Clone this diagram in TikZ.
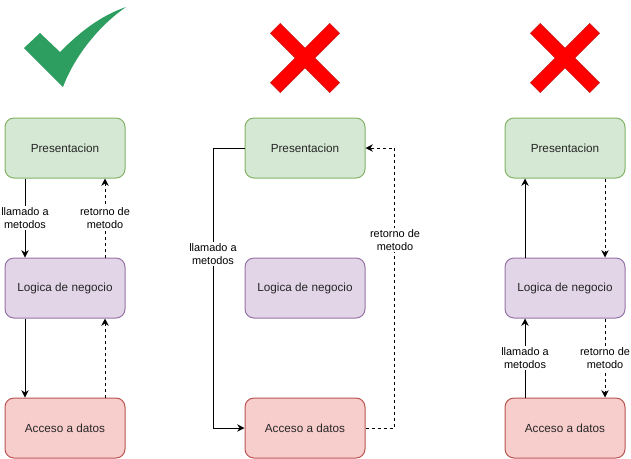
\documentclass[tikz,border=0pt]{standalone}
\usepackage{fontspec}
\setmainfont{Liberation Sans}
\usetikzlibrary{arrows.meta}
\definecolor{presfill}{HTML}{D5E8D4}
\definecolor{presline}{HTML}{82B366}
\definecolor{logfill}{HTML}{E1D5E7}
\definecolor{logline}{HTML}{9673A6}
\definecolor{accfill}{HTML}{F8CECC}
\definecolor{accline}{HTML}{B85450}
\definecolor{okgreen}{RGB}{46,158,96}
\definecolor{xred}{RGB}{255,0,0}
\definecolor{xredline}{RGB}{190,20,20}
\tikzset{
    layer/.style = {draw, line width=0.75pt, rounded corners=6.75pt,
        minimum width=90pt, minimum height=45pt, inner sep=0pt,
        text=black!85, font=\fontsize{8.8}{10}\selectfont},
    pres/.style = {layer, fill=presfill, draw=presline},
    logic/.style = {layer, fill=logfill, draw=logline},
    data/.style = {layer, fill=accfill, draw=accline},
    call/.style = {line width=0.75pt, -{Stealth[length=5.5pt,width=5.5pt]}},
    back/.style = {call, dash pattern=on 2.25pt off 2.25pt},
    lbl/.style = {fill=white, inner sep=1pt, align=center,
        font=\fontsize{8.2}{10}\selectfont}
}
\begin{document}
\begin{tikzpicture}[x=0.75pt, y=-0.75pt]
    \useasboundingbox (0,0) rectangle (631,458);

    % check mark
    \fill[okgreen] (24,48) -- (40,33) -- (60,52)
        .. controls (80,32) and (100,16) .. (126,7)
        .. controls (100,25) and (75,55) .. (63,87) -- cycle;

    % crosses
    \foreach \cx in {305,565} {
        \begin{scope}[shift={(\cx,58)}, rotate=45]
            \filldraw[fill=xred, draw=xredline, line width=0.3pt]
                (42,-7) -- (42,7) -- (7,7) -- (7,42) -- (-7,42) -- (-7,7)
                -- (-42,7) -- (-42,-7) -- (-7,-7) -- (-7,-42) -- (7,-42)
                -- (7,-7) -- cycle;
        \end{scope}
    }

    % left: layers one after the other
    \node[pres] (p1) at (65,148) {Presentacion};
    \node[logic] (l1) at (65,288) {Logica de negocio};
    \node[data] (a1) at (65,428) {Acceso a datos};
    \draw[call] ([xshift=-30pt]p1.south) -- node[lbl] {llamado a\\metodos} ([xshift=-30pt]l1.north);
    \draw[back] ([xshift=30pt]l1.north) -- node[lbl] {retorno de\\metodo} ([xshift=30pt]p1.south);
    \draw[call] ([xshift=-30pt]l1.south) -- ([xshift=-30pt]a1.north);
    \draw[back] ([xshift=30pt]a1.north) -- ([xshift=30pt]l1.south);

    % middle: logic layer skipped
    \node[pres] (p2) at (305,148) {Presentacion};
    \node[logic] (l2) at (305,288) {Logica de negocio};
    \node[data] (a2) at (305,428) {Acceso a datos};
    \draw[call] (p2.west) -- ++(-31,0) |- (a2.west);
    \draw[back] (a2.east) -- ++(29,0) |- (p2.east);
    \node[lbl] (m2) at (213,254) {llamado a\\metodos};
    \node[lbl] (r2) at (395,240) {retorno de\\metodo};

    % right: calls going upwards
    \node[pres] (p3) at (565,148) {Presentacion};
    \node[logic] (l3) at (565,288) {Logica de negocio};
    \node[data] (a3) at (565,428) {Acceso a datos};
    \draw[call] ([xshift=-30pt]l3.north) -- ([xshift=-30pt]p3.south);
    \draw[back] ([xshift=30pt]p3.south) -- ([xshift=30pt]l3.north);
    \draw[call] ([xshift=-30pt]a3.north) -- node[lbl] {llamado a\\metodos} ([xshift=-30pt]l3.south);
    \draw[back] ([xshift=30pt]l3.south) -- node[lbl] {retorno de\\metodo} ([xshift=30pt]a3.north);
\end{tikzpicture}
\end{document}
